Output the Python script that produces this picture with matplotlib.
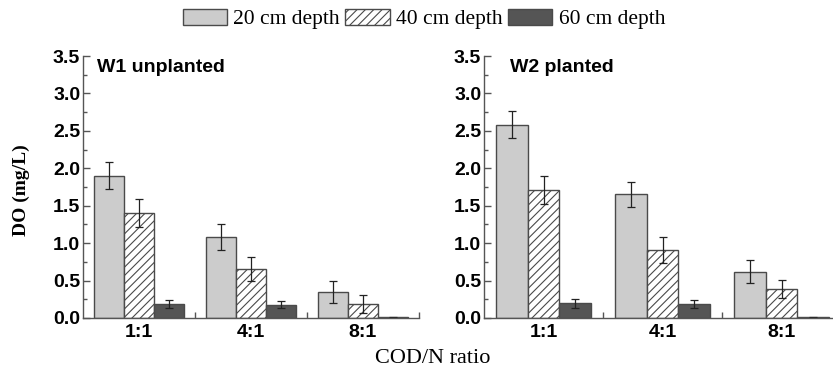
import numpy as np
import matplotlib.pyplot as plt
from matplotlib.ticker import MultipleLocator, FixedLocator

# Data
ratios = ['1:1', '4:1', '8:1']
depths = ['20 cm depth', '40 cm depth', '60 cm depth']

w1_mean = {'20': [1.90, 1.08, 0.35], '40': [1.40, 0.65, 0.19], '60': [0.19, 0.18, 0.01]}
w1_err = {'20': [0.18, 0.17, 0.15], '40': [0.19, 0.16, 0.12], '60': [0.05, 0.05, 0.005]}
w2_mean = {'20': [2.58, 1.65, 0.62], '40': [1.71, 0.91, 0.39], '60': [0.20, 0.19, 0.01]}
w2_err = {'20': [0.18, 0.17, 0.15], '40': [0.19, 0.17, 0.12], '60': [0.06, 0.05, 0.005]}

panel_titles = ['W1 unplanted', 'W2 planted']

styles = {
    '20': dict(color='#cccccc', hatch=None),
    '40': dict(color='white', hatch='////'),
    '60': dict(color='#555555', hatch=None),
}
edge = '#4a4a4a'
sans = 'Liberation Sans'
serif = 'Liberation Serif'

plt.rcParams['hatch.linewidth'] = 0.8
plt.rcParams['hatch.color'] = 'black'

fig = plt.figure(figsize=(8.33, 3.77), dpi=100)
ax1 = fig.add_axes([83/833, 59/377, 336/833, 262/377])
ax2 = fig.add_axes([484/833, 59/377, 357/833, 262/377])

x = np.arange(1, len(ratios) + 1)
bw = 0.267
handles = []
for ax, mean, err, title in [(ax1, w1_mean, w1_err, panel_titles[0]),
                             (ax2, w2_mean, w2_err, panel_titles[1])]:
    for i, key in enumerate(['20', '40', '60']):
        st = styles[key]
        b = ax.bar(x + (i - 1) * bw, mean[key], bw, color=st['color'],
                   hatch=st['hatch'], edgecolor=edge, linewidth=1.0,
                   yerr=err[key], capsize=3,
                   error_kw=dict(elinewidth=0.9, capthick=0.9, ecolor='#222222'),
                   label=depths[i])
        if ax is ax1:
            handles.append(b)
    ax.set_xlim(0.5, 3.5)
    ax.set_ylim(0, 3.5)
    ax.spines['top'].set_visible(False)
    ax.spines['right'].set_visible(False)
    for s in ['left', 'bottom']:
        ax.spines[s].set_color('#555555')
        ax.spines[s].set_linewidth(1.0)
    ax.yaxis.set_minor_locator(MultipleLocator(0.25))
    ax.set_yticks(np.arange(0, 3.51, 0.5))
    ax.set_yticklabels(['%.1f' % v for v in np.arange(0, 3.51, 0.5)],
                       fontfamily=sans, fontweight='bold', fontsize=14)
    ax.set_xticks(x)
    ax.set_xticklabels(ratios, fontfamily=sans, fontweight='bold', fontsize=14)
    ax.xaxis.set_minor_locator(FixedLocator([1.5, 2.5, 3.5]))
    ax.tick_params(axis='y', which='major', direction='in', length=5, width=1,
                   color='#555555', pad=2)
    ax.tick_params(axis='y', which='minor', direction='in', length=3, width=1,
                   color='#555555')
    ax.tick_params(axis='x', which='major', length=0, pad=4)
    ax.tick_params(axis='x', which='minor', direction='in', length=4, width=1,
                   color='#555555')
    tx = 0.042 if ax is ax1 else 0.073
    ax.text(tx, 0.958, title, transform=ax.transAxes, fontfamily=sans,
            fontweight='bold', fontsize=14, va='center', ha='left')

fig.text(21/833, 0.496, 'DO (mg/L)', rotation=90, fontfamily=serif,
         fontweight='bold', fontsize=14, ha='center', va='center')
fig.text(0.519, 0.05, 'COD/N ratio', fontfamily=serif, fontsize=16,
         ha='center', va='center')

fig.legend(handles=handles, labels=depths, loc='center', ncol=3,
           bbox_to_anchor=(424/833, 1 - 19/377), frameon=False,
           prop=dict(family=serif, size=15.5), handlelength=2.05,
           handleheight=0.75, handletextpad=0.3, columnspacing=0.25,
           borderpad=0)

fig.savefig('out.png', dpi=100)
